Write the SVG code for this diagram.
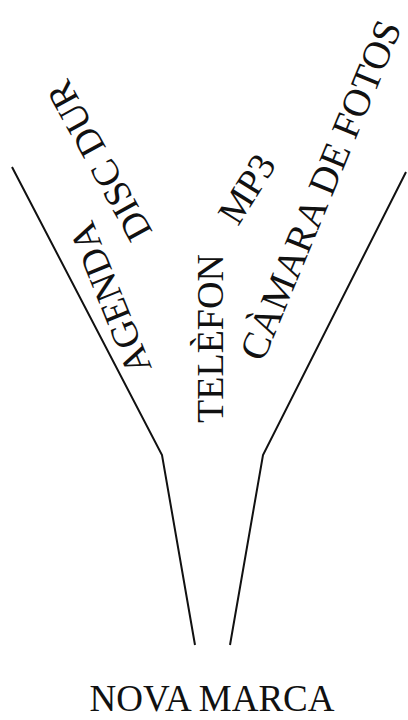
<svg xmlns="http://www.w3.org/2000/svg" width="408" height="720" viewBox="0 0 408 720">
<style>
.lbl{font-family:"Liberation Serif","Times New Roman",serif;font-size:38px;fill:#111;}
.ln{fill:none;stroke:#111;stroke-width:2;stroke-linejoin:miter;}
</style>
<rect width="408" height="720" fill="#fff"/>
<g id="connectors">
<polyline class="ln" points="12,167 162,455 195,645"/>
<polyline class="ln" points="406,172 263,455 230,645"/>
</g>
<g id="agenda"><text class="lbl" transform="translate(152,368) rotate(-112)">AGENDA</text></g>
<g id="disc-dur"><text class="lbl" transform="translate(153,232) rotate(-119)">DISC DUR</text></g>
<g id="telefon"><text class="lbl" transform="translate(223,423) rotate(-90)">TELÈFON</text></g>
<g id="mp3"><text class="lbl" transform="translate(238,227) rotate(-58)">MP3</text></g>
<g id="camara"><text class="lbl" style="font-size:39px" transform="translate(263,363) rotate(-67.5)">CÀMARA DE FOTOS</text></g>
<g id="nova-marca"><text class="lbl" style="font-size:37px" x="212" y="711" text-anchor="middle">NOVA MARCA</text></g>
</svg>
